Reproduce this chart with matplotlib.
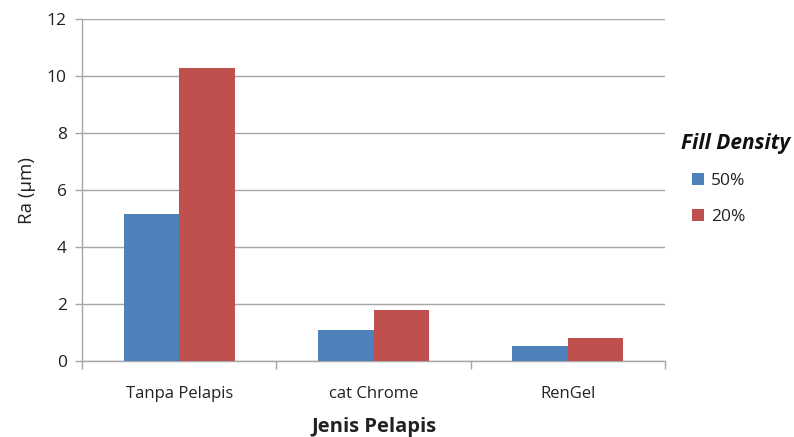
import matplotlib
matplotlib.use("Agg")
import matplotlib.pyplot as plt
import numpy as np

categories = ["Tanpa Pelapis", "cat Chrome", "RenGel"]
series_names = ["50%", "20%"]
vals_50 = [5.15, 1.10, 0.53]
vals_20 = [10.28, 1.80, 0.82]
colors = ["#4F81BD", "#C0504D"]
yticks = [0, 2, 4, 6, 8, 10, 12]

plt.rcParams['font.family'] = ['Open Sans', 'DejaVu Sans']

fig = plt.figure(figsize=(7.94, 4.37), dpi=100)
ax = fig.add_axes([82/794, 1-361/437, (665-82)/794, (361-19.3)/437])

x = np.arange(len(categories))
w = 0.285
b1 = ax.bar(x - w/2, vals_50, w, color=colors[0], label=series_names[0], zorder=3)
b2 = ax.bar(x + w/2, vals_20, w, color=colors[1], label=series_names[1], zorder=3)

ax.set_xlim(-0.5, len(categories) - 0.5)
ax.set_ylim(0, 12)
ax.set_yticks(yticks)
ax.yaxis.grid(True, color="#a6a6a6", linewidth=1.0, zorder=0)
ax.set_axisbelow(True)
for s in ["top", "right"]:
    ax.spines[s].set_visible(False)
for s in ["left", "bottom"]:
    ax.spines[s].set_color("#a6a6a6")
    ax.spines[s].set_linewidth(1.0)

ax.set_xticks(x)
ax.set_xticklabels(categories, fontsize=12, color="#222222")
ax.tick_params(axis="x", length=0, pad=18)
ax.set_xticks(np.arange(len(categories) + 1) - 0.5, minor=True)
ax.tick_params(axis="x", which="minor", length=6, color="#a6a6a6", width=1.0)
ax.tick_params(axis="y", length=5, color="#a6a6a6", width=1.0, labelsize=12.5, labelcolor="#222222", pad=6)

ax.set_ylabel("Ra (µm)", fontsize=13.5, color="#222222", labelpad=8)
ax.set_xlabel("Jenis Pelapis", fontsize=14.5, fontweight="bold", color="#222222", labelpad=11)

fig.text(681/794, 1 - 144/437, "Fill Density", fontsize=15, fontweight="bold",
         fontstyle="italic", color="#111111", ha="left", va="center")
leg = fig.legend(handles=[b1, b2], labels=series_names,
                 loc="upper left", bbox_to_anchor=(678/794, 1 - 159/437),
                 frameon=False, fontsize=12.5, handlelength=0.7, handleheight=0.7,
                 handletextpad=0.4, labelspacing=1.15, borderpad=0.3)
for t in leg.get_texts():
    t.set_color("#222222")

fig.savefig("out.png", dpi=100)
